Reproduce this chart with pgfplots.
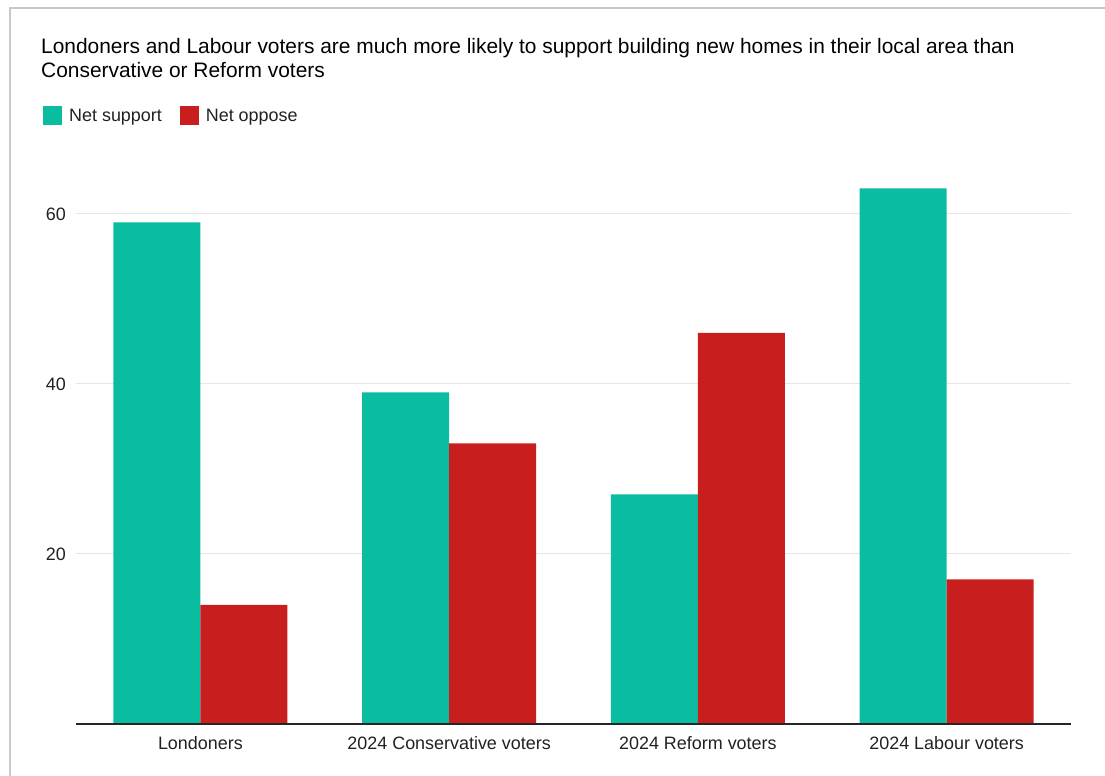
\documentclass[border=0pt]{standalone}
\usepackage{pgfplots}
\pgfplotsset{compat=1.18}
\usepackage{fontspec}
\setmainfont{Liberation Sans}
\definecolor{supportc}{HTML}{0BBDA0}
\definecolor{opposec}{HTML}{C91E1E}
\definecolor{framec}{HTML}{C8C8C8}
\definecolor{gridc}{HTML}{E6E6E6}
\begin{document}
\begin{tikzpicture}[x=1bp,y=1bp]
\useasboundingbox (0,0) rectangle (1105,776);
\draw[framec, line width=1.5bp] (10,0) -- (10,768) -- (1105,768);
\node[anchor=base west, inner sep=0pt, align=left, font=\fontsize{21}{25}\selectfont] at (41,698)
  {Londoners and Labour voters are much more likely to support building new homes in their local area than\\Conservative or Reform voters};
\begin{axis}[
  at={(76bp,52bp)}, anchor=south west,
  scale only axis, width=995bp, height=595bp,
  xmin=-0.5, xmax=3.5, ymin=0, ymax=70,
  ybar=0pt, bar width=0.35,
  axis line style={draw=none},
  major tick length=0pt,
  xtick={0,1,2,3},
  xticklabels={Londoners,2024 Conservative voters,2024 Reform voters,2024 Labour voters},
  ytick={20,40,60},
  ymajorgrids, grid style={gridc, line width=1bp},
  /pgf/number format/assume math mode=true,
  tick label style={font=\fontsize{18}{20}\selectfont, text=black!87},
  yticklabel style={inner sep=0pt, anchor=east, xshift=-10bp},
  xticklabel style={inner sep=0pt, anchor=base, yshift=-26bp},
  legend style={at={(-0.03317,1.03866)}, anchor=north west, draw=none, fill=none, inner sep=0pt,
    font=\fontsize{18}{20}\selectfont, text=black!87,
    /tikz/every odd column/.append style={column sep=5bp},
    /tikz/every even column/.append style={column sep=16bp}},
  legend columns=2,
  legend cell align=left,
  legend image code/.code={\fill[#1] (0bp,-9.5bp) rectangle (19bp,9.5bp);},
  clip=false,
]
\addplot[fill=supportc, draw=none] coordinates {(0,59) (1,39) (2,27) (3,63)};
\addplot[fill=opposec, draw=none] coordinates {(0,14) (1,33) (2,46) (3,17)};
\legend{Net support, Net oppose}
\draw[black!85, line width=1.3bp] (rel axis cs:0,0) -- (rel axis cs:1,0);
\end{axis}
\end{tikzpicture}
\end{document}
